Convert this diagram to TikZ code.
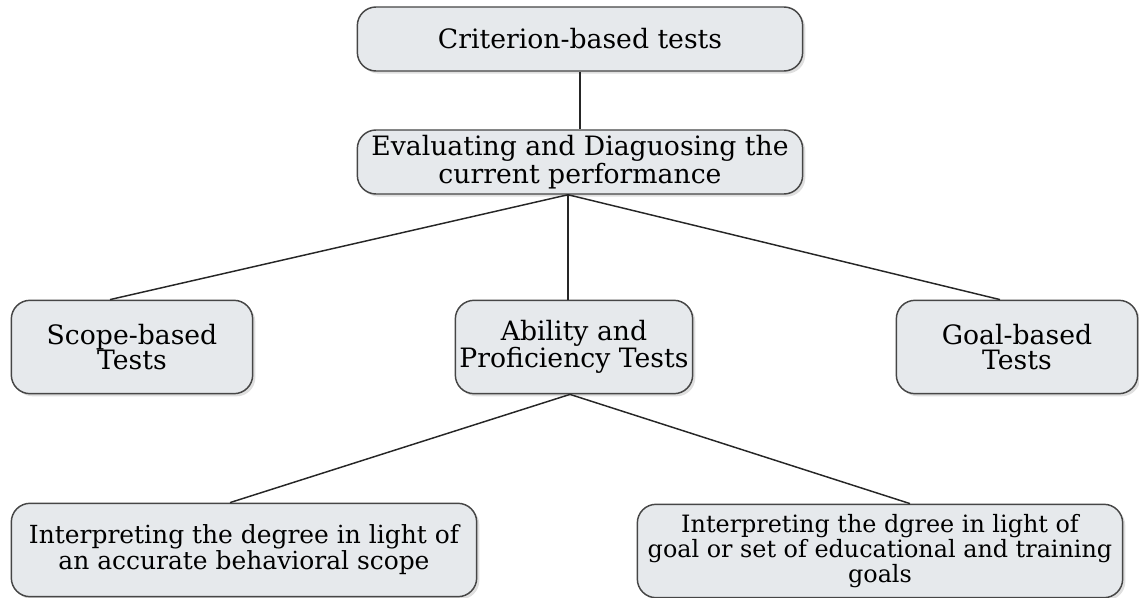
\documentclass[tikz,border=0pt]{standalone}
\usepackage{fontspec}
\setmainfont{DejaVu Serif}
\usetikzlibrary{shadows,calc}
\definecolor{boxfill}{RGB}{230,233,236}
\definecolor{boxline}{RGB}{70,70,70}
\tikzset{
  tbox/.style={draw=boxline, fill=boxfill, rounded corners=14pt, line width=1.1pt,
    align=center, inner sep=0pt, font=\fontsize{20}{19}\selectfont,
    drop shadow={opacity=0.25, shadow xshift=2pt, shadow yshift=-2pt}},
  link/.style={draw=black!85, line width=1.1pt}
}
\begin{document}
\begin{tikzpicture}[x=0.75pt,y=-0.75pt]
\useasboundingbox (0,0) rectangle (1139,598);
\node[tbox, minimum width=334pt, minimum height=48pt] (c1) at (580,39) {Criterion-based tests};
\node[tbox, minimum width=334pt, minimum height=48pt, font=\fontsize{20}{17.5}\selectfont] (e1) at (580,162) {Evaluating and Diaguosing the\\current performance};
\node[tbox, minimum width=181pt, minimum height=70pt] (s1) at (132,347) {Scope-based\\Tests};
\node[tbox, minimum width=178pt, minimum height=70pt] (a1) at (574,347) {Ability and\\Proficiency Tests};
\node[tbox, minimum width=181pt, minimum height=70pt] (g1) at (1017,347) {Goal-based\\Tests};
\node[tbox, minimum width=349pt, minimum height=70pt, font=\fontsize{18.7}{16.5}\selectfont] (i1) at (244,550) {Interpreting the degree in light of\\an accurate behavioral scope};
\node[tbox, minimum width=364pt, minimum height=70pt, font=\fontsize{17.9}{15.8}\selectfont] (i2) at (880,551) {Interpreting the dgree in light of\\goal or set of educational and training\\goals};
\coordinate (e1b) at ($(e1.south)+(-12,0)$);
\coordinate (a1b) at ($(a1.south)+(-4,0)$);
\draw[link] (c1) -- (e1);
\draw[link] (e1b) -- ($(s1.north)+(-22,0)$);
\draw[link] (e1b) -- ($(a1.north)+(-6,0)$);
\draw[link] (e1b) -- ($(g1.north)+(-17,0)$);
\draw[link] (a1b) -- ($(i1.north)+(-14,0)$);
\draw[link] (a1b) -- ($(i2.north)+(30,0)$);
\end{tikzpicture}
\end{document}
